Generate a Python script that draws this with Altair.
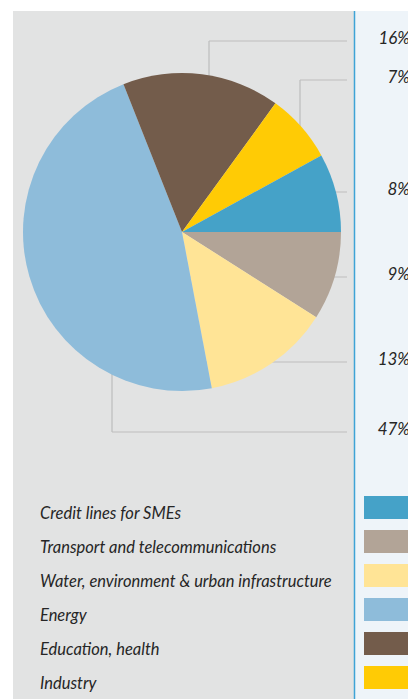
import math
import altair as alt
import pandas as pd

# ---- data -------------------------------------------------------------
categories = [
    "Transport and telecommunications",
    "Water, environment & urban infrastructure",
    "Energy",
    "Education, health",
    "Industry",
    "Credit lines for SMEs",
]
values = [9, 13, 47, 16, 7, 8]
colors = ["#b2a497", "#ffe496", "#8ebcda", "#735c4b", "#ffcb05", "#45a2c8"]

legend_order = [
    "Credit lines for SMEs",
    "Transport and telecommunications",
    "Water, environment & urban infrastructure",
    "Energy",
    "Education, health",
    "Industry",
]

# ---- layout (pixels) --------------------------------------------------
W, H = 408, 699
CX, CY, R = 182, 232, 159
label_line_y = [277, 362, 432, 41, 80, 192]      # leader-line y per slice
elbow_x = [None, None, 112, 209, 300, None]       # vertical part of leader
LINE_END = 347
LABEL_RIGHT = 410
FONT = "Lato"
TEXT_COLOR = "#262626"

pie_df = pd.DataFrame({
    "category": categories,
    "value": values,
    "idx": list(range(len(categories))),
})

# leader line segments (drawn under the pie, so inner parts are hidden)
segs = []
for ly, ex in zip(label_line_y, elbow_x):
    if ex is None:
        segs.append({"x": CX, "x2": LINE_END, "y": ly, "y2": ly})
    else:
        segs.append({"x": ex, "x2": ex, "y": CY, "y2": ly})
        segs.append({"x": ex, "x2": LINE_END, "y": ly, "y2": ly})
seg_df = pd.DataFrame(segs)

lab_df = pd.DataFrame({
    "text": [f"{v}%" for v in values],
    "x": [LABEL_RIGHT] * len(values),
    "y": [ly + 3 for ly in label_line_y],
})

leg_df = pd.DataFrame({"category": legend_order})
one = pd.DataFrame({"a": [0]})

color_scale = alt.Scale(domain=categories, range=colors)

# ---- layers -----------------------------------------------------------
gray_panel = alt.Chart(one).mark_rect(color="#e2e3e3").encode(
    x=alt.value(13), x2=alt.value(354), y=alt.value(11), y2=alt.value(H)
)
right_panel = alt.Chart(one).mark_rect(color="#eef4f9").encode(
    x=alt.value(354), x2=alt.value(W), y=alt.value(11), y2=alt.value(H)
)
blue_rule = alt.Chart(one).mark_rule(color="#3ea3d6", strokeWidth=1.5).encode(
    x=alt.value(354.5), y=alt.value(11), y2=alt.value(H)
)

leaders = alt.Chart(seg_df).mark_rule(color="#bdbdbd", strokeWidth=1.2).encode(
    x=alt.X("x:Q", scale=None),
    x2="x2:Q",
    y=alt.Y("y:Q", scale=None),
    y2="y2:Q",
)

pie = alt.Chart(pie_df).mark_arc(outerRadius=R, stroke=None).encode(
    theta=alt.Theta("value:Q", stack=True,
                    scale=alt.Scale(domain=[0, 100],
                                    range=[math.pi / 2, math.pi / 2 + 2 * math.pi])),
    order=alt.Order("idx:Q"),
    color=alt.Color("category:N", scale=color_scale, legend=None),
    x=alt.value(CX),
    y=alt.value(CY),
)

pct_labels = alt.Chart(lab_df).mark_text(
    font=FONT, fontSize=17, fontStyle="italic", align="right",
    baseline="alphabetic", color=TEXT_COLOR,
).encode(
    x=alt.X("x:Q", scale=None),
    y=alt.Y("y:Q", scale=None),
    text="text:N",
)

leg_scale = alt.Scale(domain=legend_order, range=[496, 689],
                      paddingInner=11 / 34, paddingOuter=0)

swatches = alt.Chart(leg_df).mark_rect().encode(
    y=alt.Y("category:N", scale=leg_scale, axis=None),
    x=alt.value(364), x2=alt.value(W + 5),
    color=alt.Color("category:N", scale=color_scale, legend=None),
)

leg_text = alt.Chart(leg_df).mark_text(
    font=FONT, fontSize=16.5, fontStyle="italic", align="left",
    baseline="alphabetic", color=TEXT_COLOR,
).encode(
    y=alt.Y("category:N", scale=leg_scale, axis=None, bandPosition=1),
    x=alt.value(40),
    text="category:N",
)

chart = alt.layer(
    gray_panel, right_panel, blue_rule, leaders, pie, pct_labels, swatches, leg_text
).properties(
    width=W, height=H, padding=0, autosize=alt.AutoSizeParams(type="none"),
    background="#ffffff",
).configure_view(stroke=None)

chart.save("out.html", embed_options={"renderer": "svg", "actions": False})
